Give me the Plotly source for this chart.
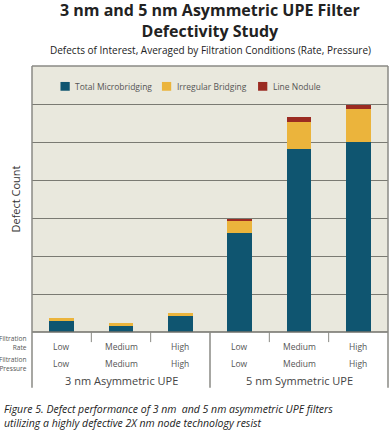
import plotly.graph_objects as go

# ---- data ----
rate_labels = ["Low", "Medium", "High", "Low", "Medium", "High"]
pressure_labels = ["Low", "Medium", "High", "Low", "Medium", "High"]
group_labels = ["3 nm Asymmetric UPE", "5 nm Symmetric UPE"]
series_names = ["Total Microbridging", "Irregular Bridging", "Line Nodule"]
microbridging = [2.8, 1.7, 4.2, 26.1, 48.2, 50.1]
irregular = [1.0, 0.8, 0.7, 3.2, 7.1, 8.6]
nodule = [0.0, 0.0, 0.0, 0.5, 1.2, 1.1]
colors = ["#0f5570", "#ebb43c", "#9b2b22"]

xpos = list(range(len(rate_labels)))
FONT = "Open Sans"

fig = go.Figure()
for name, vals, col in zip(series_names, [microbridging, irregular, nodule], colors):
    fig.add_trace(go.Bar(x=xpos, y=vals, name=name, marker_color=col,
                         marker_line_width=0, width=0.42, showlegend=False))

fig.update_layout(
    width=390, height=432, barmode="stack",
    margin=dict(l=32, r=2, t=66, b=100),
    paper_bgcolor="white", plot_bgcolor="#e9e8dd",
    font=dict(family=FONT, color="#333"),
)
fig.update_xaxes(range=[-0.5, 5.5], showticklabels=False, showgrid=False,
                 zeroline=False, showline=False, ticks="")
fig.update_yaxes(range=[0, 70], dtick=10, showticklabels=False, showgrid=True,
                 gridcolor="#7a7a72", gridwidth=1, zeroline=False,
                 showline=False, ticks="",
                 title=dict(text="Defect Count", font=dict(size=11, color="#333"), standoff=8))

line_col = "#8a8a84"
shapes = []
# box border (top, bottom, left, right)
shapes.append(dict(type="line", xref="paper", yref="paper", x0=0, x1=1, y0=1, y1=1,
                   line=dict(color=line_col, width=1.5)))
shapes.append(dict(type="line", xref="paper", yref="paper", x0=0, x1=1, y0=0, y1=0,
                   line=dict(color="#6f6f69", width=1.5)))
for xp in [0, 1]:
    shapes.append(dict(type="line", xref="paper", yref="paper", x0=xp, x1=xp, y0=-0.21, y1=1,
                       line=dict(color=line_col, width=1.5)))
# group separator
shapes.append(dict(type="line", xref="x", yref="paper", x0=2.5, x1=2.5, y0=-0.21, y1=0,
                   line=dict(color=line_col, width=1.5)))
# small separators
for xv in [0.5, 1.5, 3.5, 4.5]:
    shapes.append(dict(type="line", xref="x", yref="paper", x0=xv, x1=xv, y0=-0.038, y1=0,
                       line=dict(color=line_col, width=1)))

annotations = []
# legend (manual)
leg_x = [0.08, 0.365, 0.635]
for lx, name, col in zip(leg_x, series_names, colors):
    shapes.append(dict(type="rect", xref="paper", yref="paper",
                       x0=lx, x1=lx + 0.026, y0=0.907, y1=0.94,
                       fillcolor=col, line=dict(width=0)))
    annotations.append(dict(xref="paper", yref="paper", x=lx + 0.036, y=0.924,
                            text=name, showarrow=False, xanchor="left", yanchor="middle",
                            font=dict(size=8.5, color="#555")))

# category rows
for i, (r, p) in enumerate(zip(rate_labels, pressure_labels)):
    annotations.append(dict(xref="x", yref="paper", x=i, y=-0.053, text=r, showarrow=False,
                            yanchor="middle", font=dict(size=8.5, color="#555")))
    annotations.append(dict(xref="x", yref="paper", x=i, y=-0.12, text=p, showarrow=False,
                            yanchor="middle", font=dict(size=8.5, color="#555")))
for g, gx in zip(group_labels, [1, 4]):
    annotations.append(dict(xref="x", yref="paper", x=gx, y=-0.182, text=g, showarrow=False,
                            yanchor="middle", font=dict(size=11, color="#444")))
# row headers
annotations.append(dict(xref="paper", yref="paper", x=-3 / 356.0, y=-0.04,
                        text="Filtration<br>Rate", showarrow=False, xanchor="right",
                        yanchor="middle", align="right", font=dict(size=6.6, color="#555")))
annotations.append(dict(xref="paper", yref="paper", x=-3 / 356.0, y=-0.12,
                        text="Filtration<br>Pressure", showarrow=False, xanchor="right",
                        yanchor="middle", align="right", font=dict(size=6.6, color="#555")))

# titles
annotations.append(dict(xref="paper", yref="paper", x=0.5, y=(332 - 20) / 266.0,
                        xanchor="center", yanchor="middle", showarrow=False,
                        text="<b>3 nm and 5 nm Asymmetric UPE Filter<br>Defectivity Study</b>",
                        font=dict(size=16, color="#222")))
annotations.append(dict(xref="paper", yref="paper", x=0.5, y=(332 - 50) / 266.0,
                        xanchor="center", yanchor="middle", showarrow=False,
                        text="Defects of Interest, Averaged by Filtration Conditions (Rate, Pressure)",
                        font=dict(size=10, color="#222")))
# caption
annotations.append(dict(xref="paper", yref="paper", x=-30 / 356.0, y=(332 - 416) / 266.0,
                        xanchor="left", yanchor="middle", showarrow=False, align="left",
                        text="<i>Figure 5. Defect performance of 3 nm  and 5 nm asymmetric UPE filters<br>utilizing a highly defective 2X nm node technology resist</i>",
                        font=dict(size=10.5, color="#222")))

fig.update_layout(shapes=shapes, annotations=annotations)
fig.write_html("out.html", config={"displayModeBar": False},
               post_script="document.body.style.margin='0';")
